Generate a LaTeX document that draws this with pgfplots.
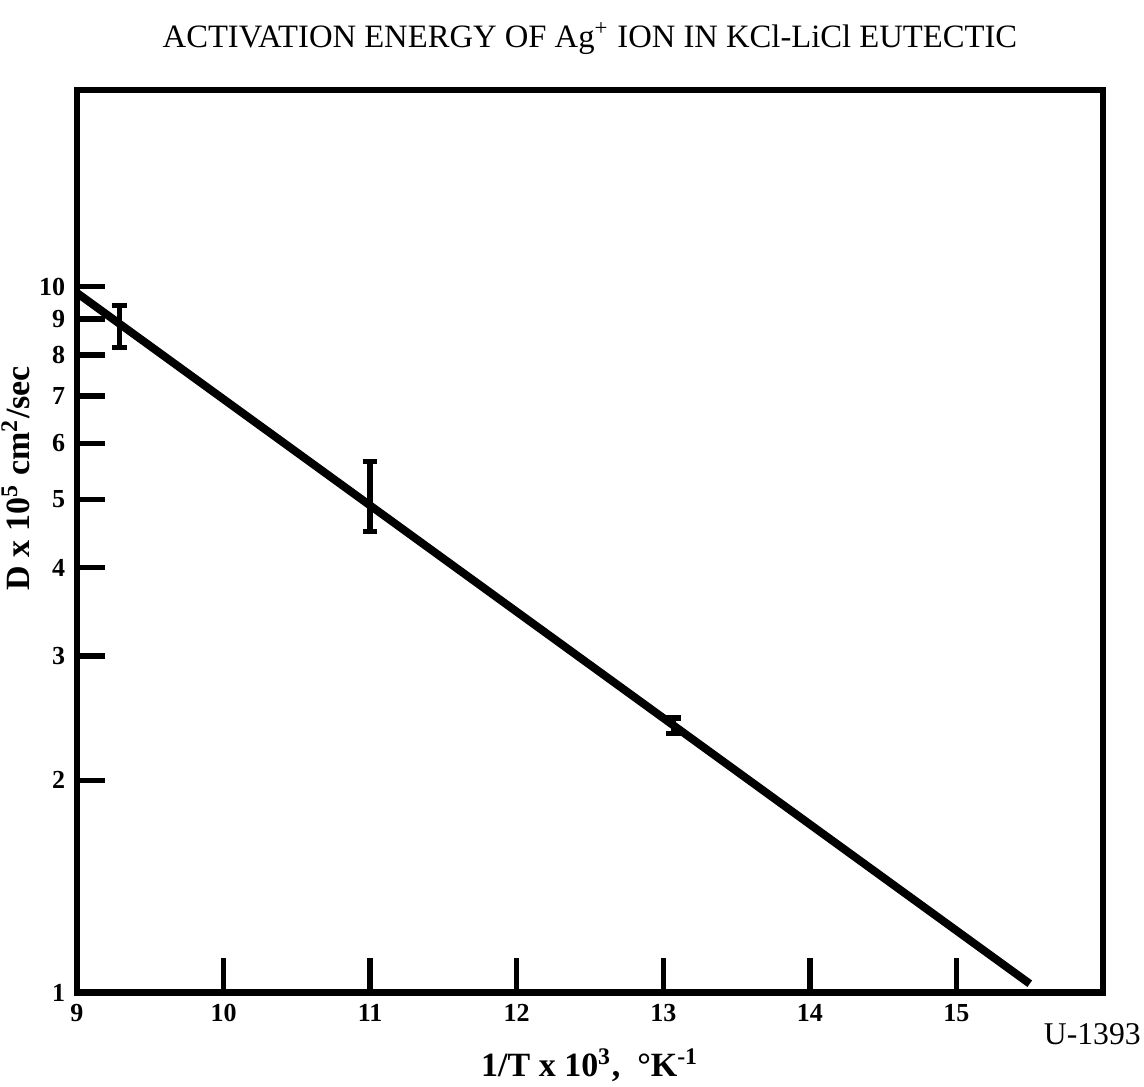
\documentclass[border=0pt]{standalone}
\usepackage{fontspec}
\setmainfont{Liberation Serif}
\usepackage{pgfplots}
\pgfplotsset{compat=1.18}
\begin{document}
\begin{tikzpicture}
\begin{axis}[
    scale only axis,
    width=308pt, height=271pt,
    xmin=9, xmax=16,
    ymode=log, ymin=1, ymax=19,
    xtick={9,...,15},
    ytick={1,2,3,4,5,6,7,8,9,10},
    yticklabels={1,2,3,4,5,6,7,8,9,10},
    minor ytick={},
    xtick pos=bottom, ytick pos=left,
    tick align=inside,
    axis line style={line width=2pt},
    xtick style={line width=1.6pt, black, /pgfplots/major tick length=10.5pt},
    ytick style={line width=1.6pt, black, /pgfplots/major tick length=8.5pt},
    ticklabel style={font=\bfseries\fontsize{7.8}{8}\selectfont},
    /pgf/number format/assume math mode=true,
    xlabel={\bfseries 1/T x 10\textsuperscript{3}, \ °K\textsuperscript{-1}},
    xlabel style={font=\fontsize{10.2}{11}\selectfont, yshift=-1pt},
    ylabel={\bfseries D x 10\textsuperscript{5} cm\textsuperscript{2}/sec},
    ylabel style={font=\fontsize{10.2}{11}\selectfont, at={(ticklabel cs:0.57)}, yshift=-4pt},
    title={ACTIVATION ENERGY OF Ag\textsuperscript{+} ION IN KCl-LiCl EUTECTIC},
    title style={font=\fontsize{9.8}{11}\selectfont, yshift=1pt},
    clip=false,
]
% fitted line
\addplot[black, line width=2.4pt] coordinates {(9,9.8) (15.5,1.03)};
% measured points with error bars
\addplot[draw=none, mark=none,
    error bars/.cd, y dir=both, y explicit,
    error mark=-,
    error bar style={line width=1.6pt, draw=black},
    error mark options={line width=1.6pt, draw=black, rotate=90, mark size=2.2pt}]
coordinates {
    (9.29,8.9) += (0,0.5) -= (0,0.7)
    (11.0,4.95) += (0,0.7) -= (0,0.45)
    (13.07,2.38) += (0,0.07) -= (0,0.05)
};
\node[anchor=north east, inner sep=0, font=\fontsize{9.5}{10}\selectfont]
    at (rel axis cs:1,0) [xshift=11.5pt, yshift=-9pt] {U-1393};
\end{axis}
\pgfresetboundingbox
\path[use as bounding box] (current axis.south west) ++(-23.1pt,-28.2pt)
    rectangle ([xshift=12.3pt, yshift=27pt]current axis.north east);
\end{tikzpicture}
\end{document}
